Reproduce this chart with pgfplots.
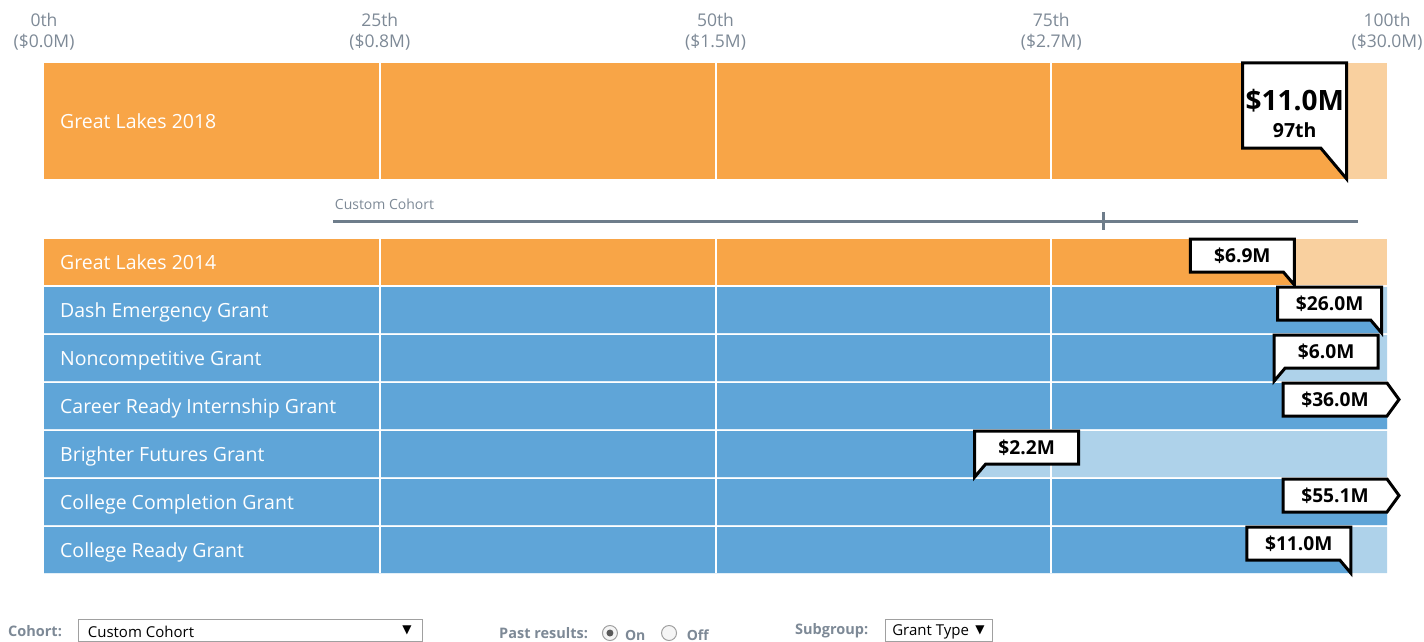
\documentclass[border=0pt]{standalone}
\usepackage{pgfplots}
\pgfplotsset{compat=1.18}
\usepackage{fontspec}
\setmainfont{Open Sans}
\newfontfamily\dejavu{DejaVu Sans}
\definecolor{orD}{HTML}{F8A547}
\definecolor{orL}{HTML}{F9D09F}
\definecolor{blD}{HTML}{5FA5D8}
\definecolor{blL}{HTML}{AED2EA}
\definecolor{gr}{HTML}{7D8996}
\definecolor{lineg}{HTML}{6E7D8B}
\definecolor{boxg}{HTML}{A0A0A0}
\newcommand\hdr[3]{%
  \node[text=gr, font=\fontsize{17.5}{20}\selectfont] at (axis cs:#1,20) {#2};
  \node[text=gr, font=\fontsize{17.5}{20}\selectfont] at (axis cs:#1,42) {(\$#3)};}
\newcommand\rlab[2]{%
  \node[anchor=base west, inner sep=0pt, text=white, font=\fontsize{19.5}{22}\selectfont] at ([yshift=-7pt]axis cs:1.19,#1) {#2};}
\newcommand\cfont{\bfseries\fontsize{19.2}{20}\selectfont}
% callout with tail at bottom-right: pct, row bottom (px), text
\newcommand\calBR[3]{%
  \draw[black, line width=3pt, fill=white, line join=miter] (axis cs:#1,#2) -- ++(0pt,13pt) -- ++(0pt,33pt) -- ++(-104pt,0pt) -- ++(0pt,-33pt) -- ++(93pt,0pt) -- cycle;
  \node[font=\cfont] at ([shift={(-52pt,29pt)}]axis cs:#1,#2) {#3};}
% callout with tail at bottom-left
\newcommand\calBL[3]{%
  \draw[black, line width=3pt, fill=white, line join=miter] (axis cs:#1,#2) -- ++(0pt,46pt) -- ++(104pt,0pt) -- ++(0pt,-33pt) -- ++(-93pt,0pt) -- cycle;
  \node[font=\cfont] at ([shift={(52pt,29pt)}]axis cs:#1,#2) {#3};}
% callout pointing right (beyond max): pct, row top (px), text
\newcommand\calR[3]{%
  \draw[black, line width=3pt, fill=white, line join=miter] (axis cs:#1,#2) -- ++(12pt,-16.5pt) -- ++(-12pt,-16.5pt) -- ++(-104pt,0pt) -- ++(0pt,33pt) -- cycle;
  \node[font=\cfont] at ([shift={(-52pt,-17pt)}]axis cs:#1,#2) {#3};}
\begin{document}
\begin{tikzpicture}
\begin{axis}[
  name=ax,
  width=1424pt, height=642pt, scale only axis,
  xmin=-3.2763, xmax=102.755, ymin=0, ymax=642, y dir=reverse,
  hide axis, clip=false,
]
% ---- top bar: Great Lakes 2018
\addplot[xbar, bar width=116, bar shift=0pt, fill=orL, draw=none] coordinates {(100,121)};
\addplot[xbar, bar width=116, bar shift=0pt, fill=orD, draw=none] coordinates {(97,121)};
% ---- cohort rows
\addplot[xbar, bar width=46, bar shift=0pt, fill=orL, draw=none] coordinates {(100,262)};
\addplot[xbar, bar width=46, bar shift=0pt, fill=orD, draw=none] coordinates {(93.1,262)};
\addplot[xbar, bar width=46, bar shift=0pt, fill=blL, draw=none] coordinates {(100,310) (100,358) (100,406) (100,454) (100,502) (100,550)};
\addplot[xbar, bar width=46, bar shift=0pt, fill=blD, draw=none] coordinates {(99.6,310) (91.6,358) (100,406) (69.3,454) (100,502) (97.3,550)};
% ---- white percentile gridlines
\addplot[white, line width=2pt] coordinates {(25,63) (25,179)};
\addplot[white, line width=2pt] coordinates {(50,63) (50,179)};
\addplot[white, line width=2pt] coordinates {(75,63) (75,179)};
\addplot[white, line width=2pt] coordinates {(25,239) (25,573)};
\addplot[white, line width=2pt] coordinates {(50,239) (50,573)};
\addplot[white, line width=2pt] coordinates {(75,239) (75,573)};
% ---- custom cohort range line
\addplot[lineg, line width=3pt] coordinates {(21.5,221) (97.85,221)};
\addplot[lineg, line width=3pt] coordinates {(78.9,212) (78.9,230)};
\node[anchor=west, text=gr, font=\fontsize{14}{16}\selectfont] at (axis cs:21.4,204) {Custom Cohort};
% ---- header labels
\hdr{0}{0th}{0.0M}
\hdr{25}{25th}{0.8M}
\hdr{50}{50th}{1.5M}
\hdr{75}{75th}{2.7M}
\hdr{100}{100th}{30.0M}
% ---- row labels
\rlab{121}{Great Lakes 2018}
\rlab{262}{Great Lakes 2014}
\rlab{310}{Dash Emergency Grant}
\rlab{358}{Noncompetitive Grant}
\rlab{406}{Career Ready Internship Grant}
\rlab{454}{Brighter Futures Grant}
\rlab{502}{College Completion Grant}
\rlab{550}{College Ready Grant}
% ---- big callout
\draw[black, line width=3pt, fill=white, line join=miter] (axis cs:97,179) -- ++(0pt,31pt) -- ++(0pt,85pt) -- ++(-104pt,0pt) -- ++(0pt,-85pt) -- ++(78pt,0pt) -- cycle;
\node[font=\bfseries\fontsize{28}{30}\selectfont] at ([shift={(-52pt,78pt)}]axis cs:97,179) {\$11.0M};
\node[font=\bfseries\fontsize{19.5}{20}\selectfont] at ([shift={(-52pt,49pt)}]axis cs:97,179) {97th};
% ---- row callouts
\calBR{93.1}{285}{\$6.9M}
\calBR{99.6}{333}{\$26.0M}
\calBL{91.6}{381}{\$6.0M}
\calR{100}{383}{\$36.0M}
\calBL{69.3}{477}{\$2.2M}
\calR{100}{479}{\$55.1M}
\calBR{97.3}{573}{\$11.0M}
% ---- bottom controls
\node[anchor=west, inner sep=0pt, text=gr, font=\bfseries\fontsize{14.5}{16}\selectfont] at (axis cs:-2.681,631) {Cohort:};
\draw[boxg, line width=1pt, fill=white] (axis cs:2.532,619) rectangle (axis cs:28.146,641);
\node[anchor=west, text=black, font=\fontsize{15}{16}\selectfont] at (axis cs:3.0,631.5) {Custom Cohort};
\node[text=black, font=\dejavu\fontsize{12}{14}\selectfont] at (axis cs:27.03,630.5) {▼};
\node[anchor=west, inner sep=0pt, text=gr, font=\bfseries\fontsize{14.5}{16}\selectfont] at (axis cs:33.88,633) {Past results:};
\draw[boxg, line width=1pt, fill=gray!8] (axis cs:42.14,633) circle[radius=7.5pt];
\fill[gray!70!black] (axis cs:42.14,633) circle[radius=3.5pt];
\node[anchor=west, text=gr, font=\bfseries\fontsize{14}{16}\selectfont] at (axis cs:43.0,635.5) {On};
\draw[boxg, line width=1pt, fill=gray!8] (axis cs:46.54,633) circle[radius=7.5pt];
\node[anchor=west, text=gr, font=\bfseries\fontsize{14}{16}\selectfont] at (axis cs:47.6,635.5) {Off};
\node[anchor=west, inner sep=0pt, text=gr, font=\bfseries\fontsize{14.5}{16}\selectfont] at (axis cs:55.92,631) {Subgroup:};
\draw[boxg, line width=1pt, fill=white] (axis cs:62.62,619) rectangle (axis cs:70.66,641);
\node[anchor=west, text=black, font=\fontsize{15}{16}\selectfont] at (axis cs:62.9,631.5) {Grant Type};
\node[text=black, font=\dejavu\fontsize{12}{14}\selectfont] at (axis cs:69.7,630.5) {▼};
\end{axis}
\pgfresetboundingbox
\path (ax.south west) rectangle (ax.north east);
\end{tikzpicture}
\end{document}
